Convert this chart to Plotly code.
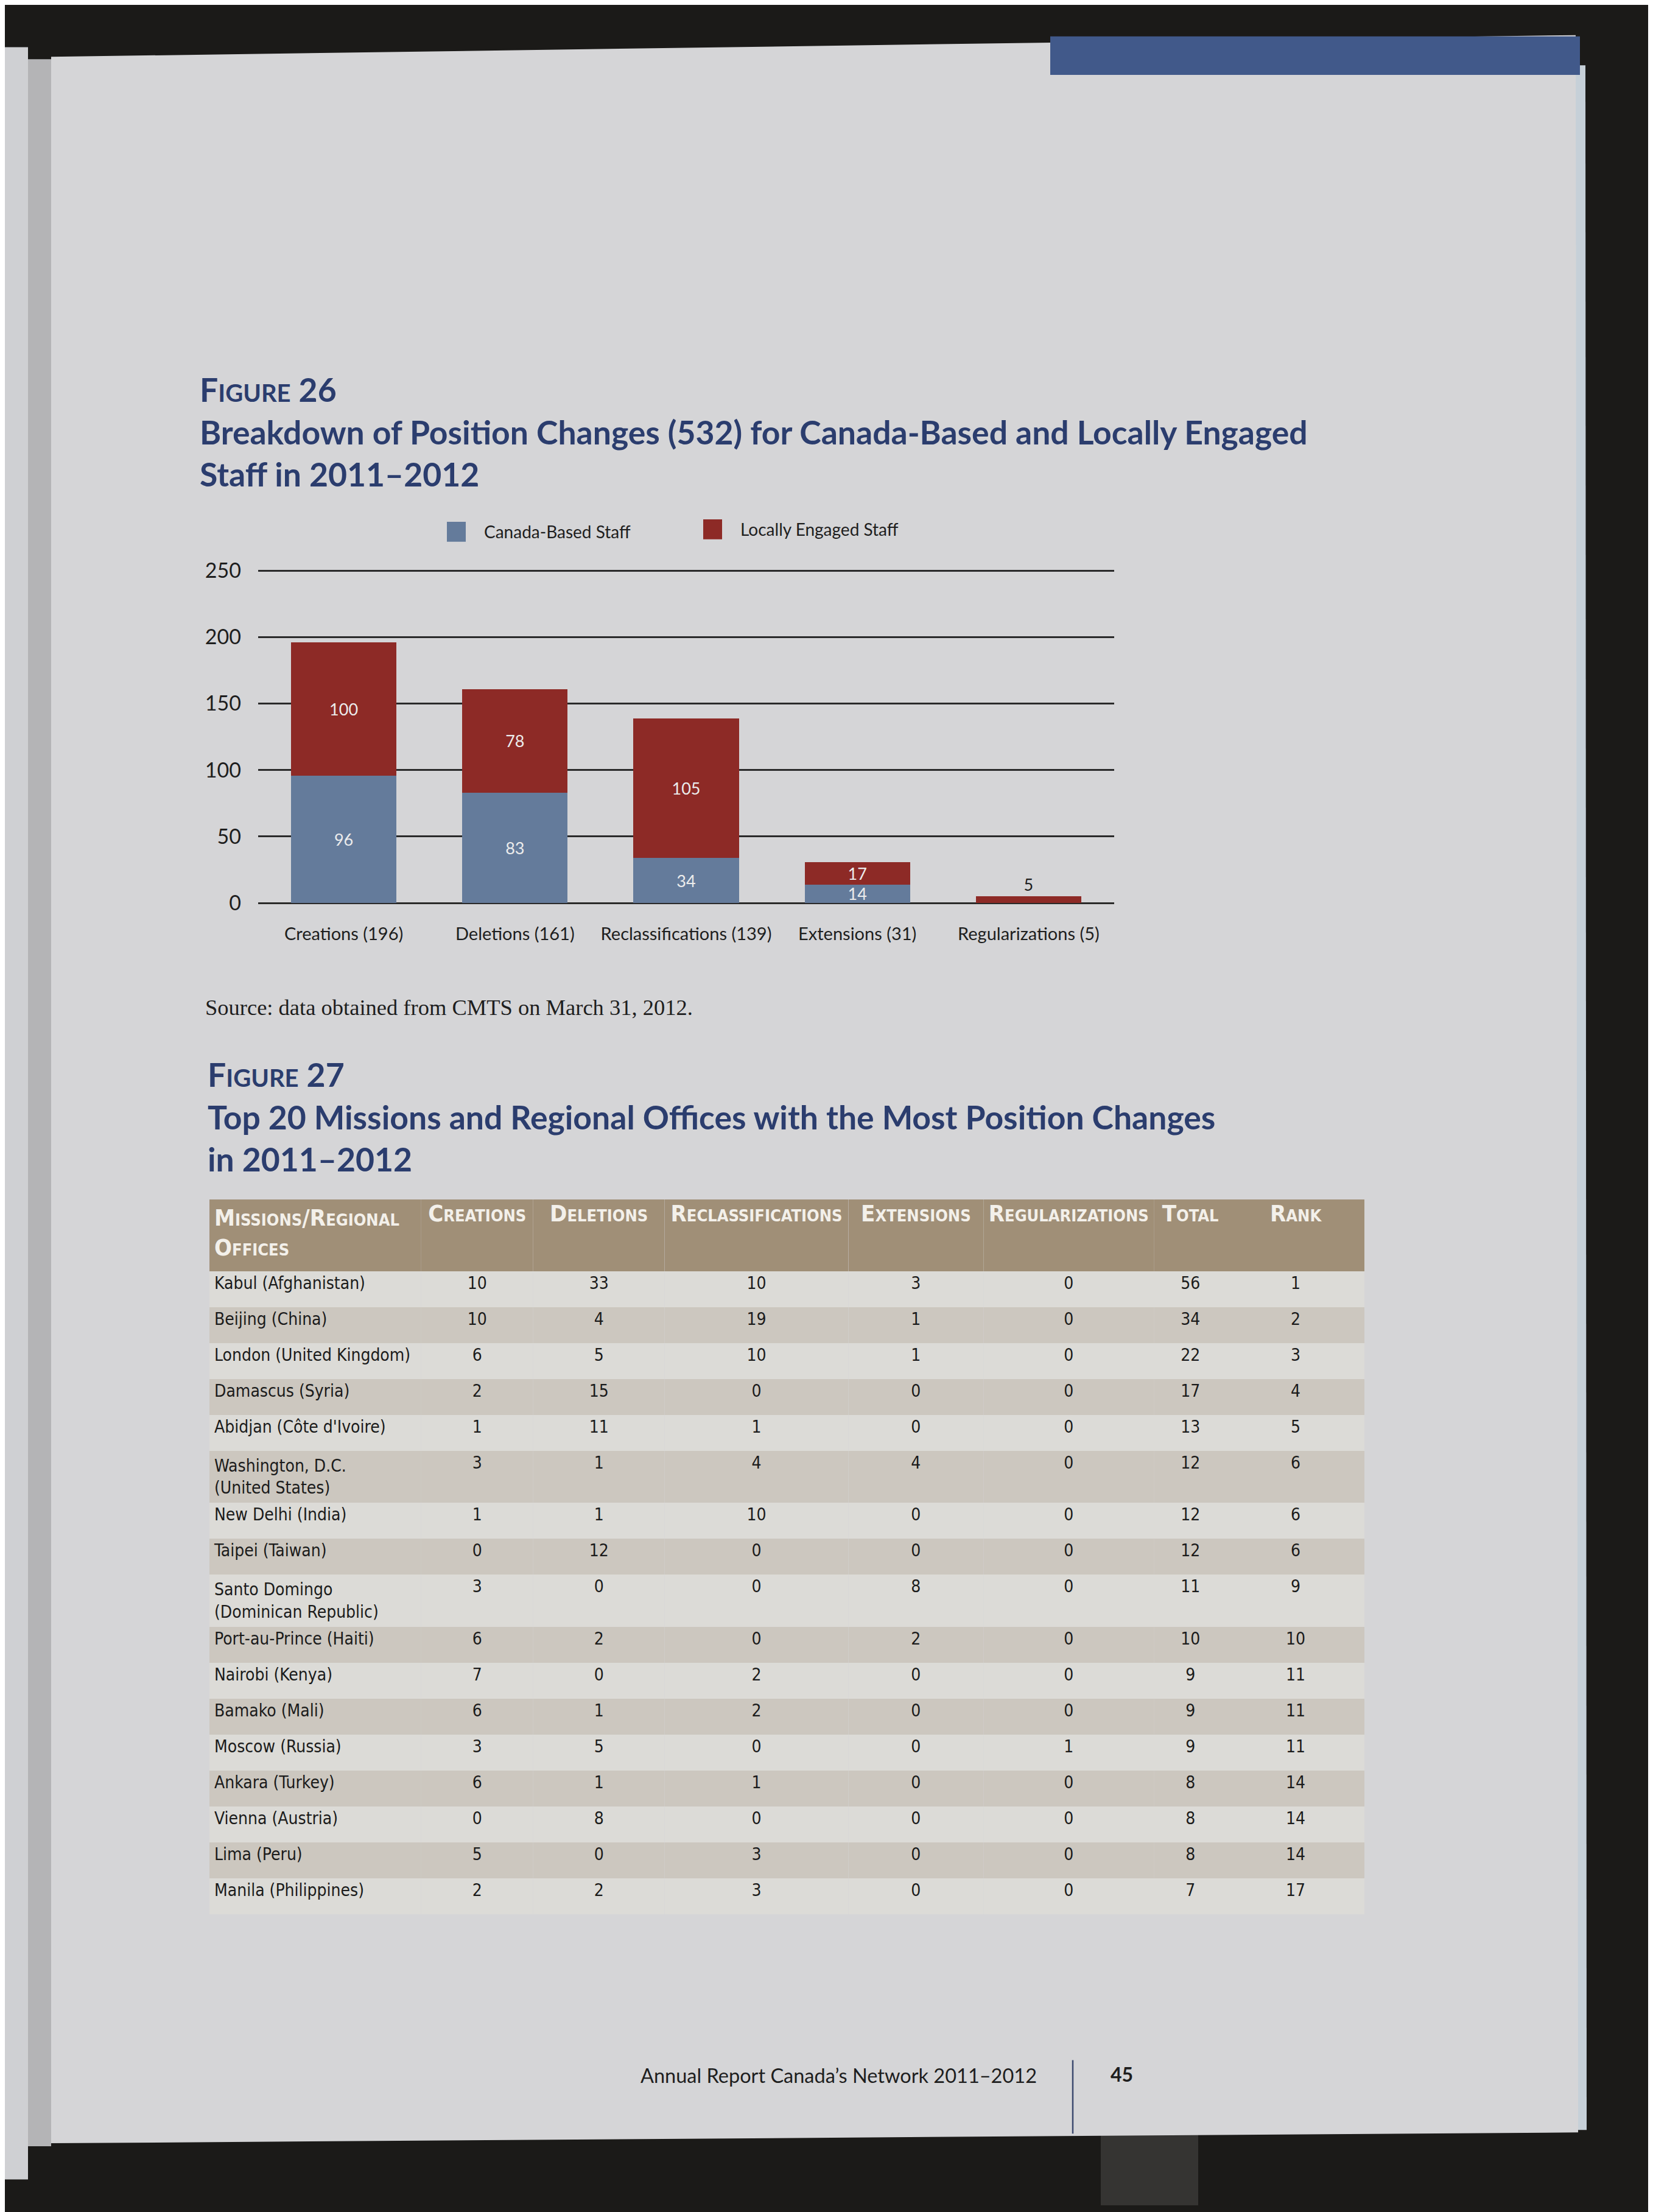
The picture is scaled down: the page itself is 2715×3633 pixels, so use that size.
import plotly.graph_objects as go

W, H = 2715, 3633

# ---------------- data ----------------
categories = ["Creations (196)", "Deletions (161)", "Reclassifications (139)",
              "Extensions (31)", "Regularizations (5)"]
canada_based = [96, 83, 34, 14, 0]
locally_engaged = [100, 78, 105, 17, 5]
y_ticks = [0, 50, 100, 150, 200, 250]

table_headers = ["Missions/Regional<br>Offices", "Creations", "Deletions", "Reclassifications",
                 "Extensions", "Regularizations", "Total", "Rank"]
missions = ["Kabul (Afghanistan)", "Beijing (China)", "London (United Kingdom)", "Damascus (Syria)",
            "Abidjan (Côte d'Ivoire)", "Washington, D.C.<br>(United States)", "New Delhi (India)",
            "Taipei (Taiwan)", "Santo Domingo<br>(Dominican Republic)", "Port-au-Prince (Haiti)",
            "Nairobi (Kenya)", "Bamako (Mali)", "Moscow (Russia)", "Ankara (Turkey)",
            "Vienna (Austria)", "Lima (Peru)", "Manila (Philippines)"]
creations = [10, 10, 6, 2, 1, 3, 1, 0, 3, 6, 7, 6, 3, 6, 0, 5, 2]
deletions = [33, 4, 5, 15, 11, 1, 1, 12, 0, 2, 0, 1, 5, 1, 8, 0, 2]
reclassifications = [10, 19, 10, 0, 1, 4, 10, 0, 0, 0, 2, 2, 0, 1, 0, 3, 3]
extensions = [3, 1, 1, 0, 0, 4, 0, 0, 8, 2, 0, 0, 0, 0, 0, 0, 0]
regularizations = [0, 0, 0, 0, 0, 0, 0, 0, 0, 0, 0, 0, 1, 0, 0, 0, 0]
totals = [56, 34, 22, 17, 13, 12, 12, 12, 11, 10, 9, 9, 9, 8, 8, 8, 7]
ranks = [1, 2, 3, 4, 5, 6, 6, 6, 9, 10, 11, 11, 11, 14, 14, 14, 17]

fig26_title = ("F<span style='font-size:40px'>IGURE</span> 26<br>"
               "Breakdown of Position Changes (532) for Canada-Based and Locally Engaged<br>"
               "Staff in 2011–2012")
fig27_title = ("F<span style='font-size:40px'>IGURE</span> 27<br>"
               "Top 20 Missions and Regional Offices with the Most Position Changes<br>"
               "in 2011–2012")

# ---------------- helpers ----------------
def fx(px):
    return px / W

def fy(px):
    return 1 - px / H

NAVY = "#2b3d6e"
BLUE = "#647b9b"
RED = "#8d2a26"
PAGE = "#d5d5d7"
INK = "#1e1e1e"

fig = go.Figure()

# ---------------- Figure 26 bars ----------------
fig.add_trace(go.Bar(
    x=categories, y=canada_based, name="Canada-Based Staff",
    marker=dict(color=BLUE, line=dict(width=0)),
    text=[str(v) if v else "" for v in canada_based],
    textposition="inside", insidetextanchor="middle", textangle=0,
    constraintext="none",
    textfont=dict(family="Lato", size=27, color="#ececec"),
    showlegend=False,
))
fig.add_trace(go.Bar(
    x=categories, y=locally_engaged, name="Locally Engaged Staff",
    marker=dict(color=RED, line=dict(width=0)),
    text=[str(v) for v in locally_engaged],
    textposition=["inside"] * 4 + ["outside"], insidetextanchor="middle", textangle=0,
    constraintext="none",
    textfont=dict(family="Lato", size=27, color=["#ececec"] * 4 + [INK]),
    showlegend=False,
))

# ---------------- Figure 27 table ----------------
n = len(missions)
row_fill = ["#dcdbd7" if i % 2 == 0 else "#ccc7bf" for i in range(n)]
TFONT = "Liberation Sans Narrow, DejaVu Sans Condensed, Roboto, sans-serif"
fig.add_trace(go.Table(
    domain=dict(x=[fx(336), fx(2234)], y=[0.06, fy(1963)]),
    columnwidth=[348, 184, 216, 302, 222, 280, 120, 226],
    header=dict(
        values=table_headers,
        align=["left"] + ["center"] * 7,
        fill=dict(color="#a08f77"),
        line=dict(color="#a08f77", width=0),
        font=dict(family=TFONT, size=38, color="#f3f0ea", weight="bold", variant="small-caps"),
        height=118,
    ),
    cells=dict(
        values=[missions,
                [str(v) for v in creations],
                [str(v) for v in deletions],
                [str(v) for v in reclassifications],
                [str(v) for v in extensions],
                [str(v) for v in regularizations],
                [str(v) for v in totals],
                [str(v) for v in ranks]],
        align=["left"] + ["center"] * 7,
        fill=dict(color=[row_fill] * 8),
        line=dict(color=[row_fill] * 8, width=0),
        font=dict(family=TFONT, size=28, color="#1b1b1b"),
        height=59,
    ),
))

# ---------------- page background shapes ----------------
def path_px(points):
    return "M " + " L ".join(f"{fx(x):.5f},{fy(y):.5f}" for x, y in points) + " Z"

shapes = [
    # adjacent page strip and gutter
    dict(type="rect", xref="paper", yref="paper", x0=0, x1=fx(38), y0=fy(3590), y1=fy(50),
         fillcolor="#cfd0d3", line=dict(width=0), layer="below"),
    dict(type="rect", xref="paper", yref="paper", x0=fx(38), x1=fx(76), y0=fy(3535), y1=fy(70),
         fillcolor="#b4b4b6", line=dict(width=0), layer="below"),
    # lighter dark band below page
    dict(type="rect", xref="paper", yref="paper", x0=fx(1800), x1=fx(1960), y0=0, y1=fy(3515),
         fillcolor="#353432", line=dict(width=0), layer="below"),
    # right edge thin strip
    dict(type="path", xref="paper", yref="paper",
         path=path_px([(2574, 80), (2596, 80), (2598, 3508), (2576, 3508)]),
         fillcolor="#c6d0d8", line=dict(width=0), layer="below"),
    # page
    dict(type="path", xref="paper", yref="paper",
         path=path_px([(76, 66), (2580, 30), (2584, 3512), (76, 3530)]),
         fillcolor=PAGE, line=dict(width=0), layer="below"),
    # blue tab
    dict(type="rect", xref="paper", yref="paper", x0=fx(1717), x1=fx(2587), y0=fy(96), y1=fy(32),
         fillcolor="#41598a", line=dict(width=0), layer="below"),
    # legend squares
    dict(type="rect", xref="paper", yref="paper", x0=fx(726), x1=fx(757), y0=fy(871), y1=fy(838),
         fillcolor=BLUE, line=dict(width=0)),
    dict(type="rect", xref="paper", yref="paper", x0=fx(1147), x1=fx(1178), y0=fy(867), y1=fy(834),
         fillcolor=RED, line=dict(width=0)),
    # footer separator
    dict(type="line", xref="paper", yref="paper", x0=fx(1754), x1=fx(1754), y0=fy(3514), y1=fy(3392),
         line=dict(color="#3c4a6e", width=2.5)),
]

# ---------------- text ----------------
def note(text, x, y, size, color=INK, family="Lato", weight="normal", xanchor="left"):
    return dict(text=text, x=fx(x), y=fy(y), xref="paper", yref="paper",
                xanchor=xanchor, yanchor="middle", align="left", showarrow=False,
                font=dict(family=family, size=size, color=color, weight=weight))

annotations = [
    note(fig26_title, 318, 688, 53.5, NAVY, weight="bold"),
    note("Canada-Based Staff", 785, 854, 28),
    note("Locally Engaged Staff", 1206, 850, 28),
    note("Source: data obtained from CMTS on March 31, 2012.", 327, 1644, 36.5,
         family="Liberation Serif, serif"),
    note(fig27_title, 331, 1825, 53.5, NAVY, weight="bold"),
    note("Annual Report Canada’s Network 2011–2012", 1042, 3417, 32.5),
    note("45", 1814, 3415, 32, weight="bold"),
]

# y-axis geometry: value 0 at 1471 px, value 250 at 919 px, range top a bit above 250
Y0_PX, Y250_PX, YMAX = 1471, 919, 251
k = (Y0_PX - Y250_PX) / 250
ytop_px = Y0_PX - YMAX * k

fig.update_layout(
    width=W, height=H,
    margin=dict(l=0, r=0, t=0, b=0),
    paper_bgcolor="#1b1a18",
    plot_bgcolor="rgba(0,0,0,0)",
    barmode="stack",
    bargap=0.384,
    showlegend=False,
    shapes=shapes,
    annotations=annotations,
    font=dict(family="Lato", color=INK),
    xaxis=dict(
        domain=[fx(416), fx(1822)],
        type="category",
        showgrid=False, zeroline=False, showline=False,
        ticks="", ticklabelstandoff=31,
        tickfont=dict(family="Lato", size=29, color=INK),
        fixedrange=True,
    ),
    yaxis=dict(
        domain=[fy(Y0_PX), fy(ytop_px)],
        range=[0, YMAX],
        tickvals=y_ticks,
        ticktext=[str(v) for v in y_ticks],
        showgrid=True, gridcolor="#2a2a2a", gridwidth=3,
        zeroline=True, zerolinecolor="#2a2a2a", zerolinewidth=3,
        showline=False, ticks="", ticklabelstandoff=27,
        tickfont=dict(family="Lato", size=34, color=INK),
        fixedrange=True,
    ),
)

fig.write_html("out.html")
